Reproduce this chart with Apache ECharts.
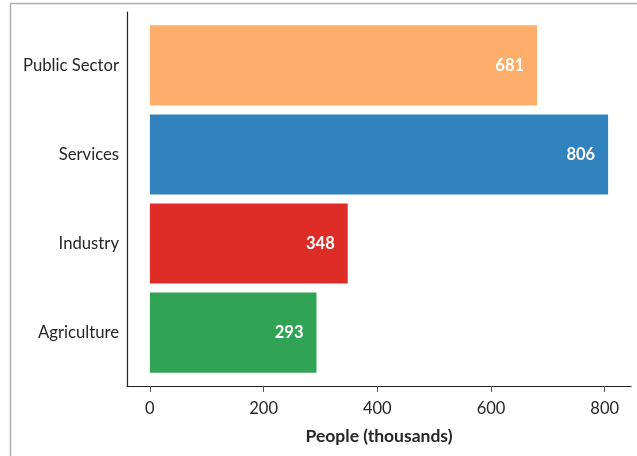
<!DOCTYPE html>
<html>
<head>
<meta charset="utf-8">
<script src="https://cdn.jsdelivr.net/npm/echarts@6/dist/echarts.min.js"></script>
<style>html,body{margin:0;padding:0;background:#fff;}#c{width:637px;height:456px;}</style>
</head>
<body>
<div id="c"></div>
<script>
const categories = ['Agriculture', 'Industry', 'Services', 'Public Sector'];
const values = [293, 348, 806, 681];
const barColors = ['#31a354', '#de2d26', '#3182bd', '#fdae6b'];
const xTicks = [0, 200, 400, 600, 800];
const FONT = 'Lato, "Open Sans", sans-serif';

const chart = echarts.init(document.getElementById('c'), null, {renderer: 'canvas'});
const data = values.map((v, i) => [v, i]);

chart.setOption({
  animation: false,
  backgroundColor: '#fff',
  graphic: [
    {type: 'line', shape: {x1: 10, y1: 3.5, x2: 637, y2: 3.5}, style: {stroke: '#b0b0b0', lineWidth: 1.5}},
    {type: 'line', shape: {x1: 10.5, y1: 3, x2: 10.5, y2: 456}, style: {stroke: '#b0b0b0', lineWidth: 1.5}}
  ],
  grid: {left: 127, right: 6, top: 12, bottom: 70, containLabel: false},
  xAxis: {
    type: 'value', min: -40.3, max: 846.3,
    name: 'People (thousands)', nameLocation: 'middle', nameGap: 41,
    nameTextStyle: {fontFamily: FONT, fontSize: 17.5, fontWeight: 'bold', color: '#262626'},
    axisLine: {show: true, onZero: false, lineStyle: {color: '#222', width: 1.2}},
    axisTick: {show: true, customValues: xTicks, length: 6, lineStyle: {color: '#555'}},
    axisLabel: {customValues: xTicks, margin: 14, fontFamily: FONT, fontSize: 16.5, color: '#262626'},
    splitLine: {show: false}
  },
  yAxis: {
    type: 'value', min: -0.6, max: 3.6,
    axisLine: {show: true, onZero: false, lineStyle: {color: '#222', width: 1.2}},
    axisTick: {show: false},
    axisLabel: {customValues: [0, 1, 2, 3], margin: 8, fontFamily: FONT, fontSize: 16.7, color: '#262626',
      padding: [4, 0, 0, 0],
      formatter: v => categories[Math.round(v)]},
    splitLine: {show: false}
  },
  series: [{
    type: 'custom',
    encode: {x: 0, y: 1},
    data: data,
    renderItem: (params, api) => {
      const v = api.value(0), i = api.value(1);
      const p0 = api.coord([0, i]);
      const p1 = api.coord([v, i]);
      const h = api.size([0, 0.9])[1];
      return {
        type: 'rect',
        shape: {x: p0[0], y: p0[1] - h / 2, width: p1[0] - p0[0], height: h},
        style: {fill: barColors[i]},
        textContent: {style: {text: String(v), fill: '#fff', font: 'bold 16.5px ' + FONT, padding: [4, 0, 0, 0]}},
        textConfig: {position: 'insideRight', distance: 13}
      };
    }
  }]
});
</script>
</body>
</html>
